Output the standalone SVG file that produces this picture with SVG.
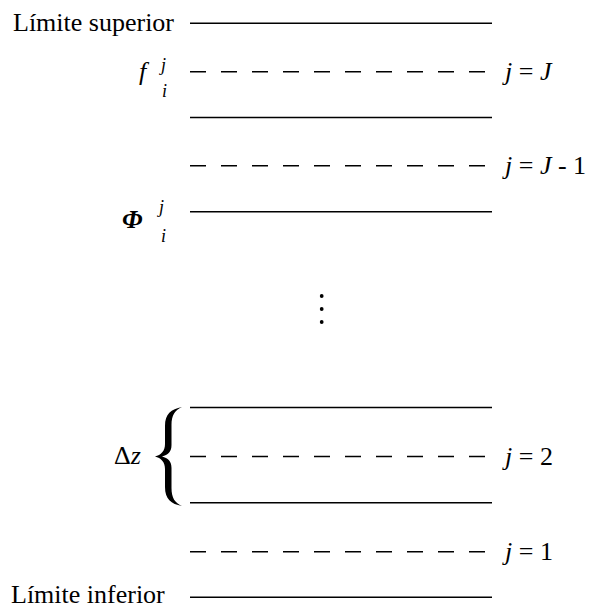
<svg xmlns="http://www.w3.org/2000/svg" width="592" height="608" viewBox="0 0 592 608">
<style>
  .t { font-family: "Liberation Serif", "Times New Roman", serif; font-size: 26px; fill: #000; }
  .it { font-style: italic; }
  .sub { font-family: "Liberation Serif", "Times New Roman", serif; font-size: 18px; font-style: italic; fill: #000; }
  .solid { stroke: #000; stroke-width: 1.6; fill: none; }
  .dash { stroke: #000; stroke-width: 1.6; fill: none; stroke-dasharray: 16 15; }
</style>
<rect width="592" height="608" fill="#fff"/>
<g id="connectors">
  <line class="solid" x1="190" y1="23.3" x2="492" y2="23.3"/>
  <line class="dash" x1="190" y1="71.7" x2="492" y2="71.7"/>
  <line class="solid" x1="190" y1="117.5" x2="492" y2="117.5"/>
  <line class="dash" x1="190" y1="165.7" x2="492" y2="165.7"/>
  <line class="solid" x1="190" y1="211.7" x2="492" y2="211.7"/>
  <line class="solid" x1="190" y1="407.5" x2="492" y2="407.5"/>
  <line class="dash" x1="190" y1="456.5" x2="492" y2="456.5"/>
  <line class="solid" x1="190" y1="502.7" x2="492" y2="502.7"/>
  <line class="dash" x1="190" y1="551.7" x2="492" y2="551.7"/>
  <line class="solid" x1="190" y1="597.3" x2="492" y2="597.3"/>
</g>
<g id="limite-superior"><text class="t" x="13" y="31">Límite superior</text></g>
<g id="limite-inferior"><text class="t" x="11" y="603">Límite inferior</text></g>
<g id="f-label">
  <text class="t it" x="139" y="80">f</text>
  <text class="sub" x="161" y="71">j</text>
  <text class="sub" x="162" y="96.5">i</text>
</g>
<g id="phi-label">
  <text class="t it" x="122" y="228" font-weight="bold" font-size="30">Φ</text>
  <text class="sub" x="159" y="213">j</text>
  <text class="sub" x="161" y="242">i</text>
</g>
<g id="label-jJ"><text class="t" x="505" y="80"><tspan class="it">j</tspan> = <tspan class="it">J</tspan></text></g>
<g id="label-jJ1"><text class="t" x="505" y="174"><tspan class="it">j</tspan> = <tspan class="it">J</tspan> - 1</text></g>
<g id="label-j2"><text class="t" x="505" y="465"><tspan class="it">j</tspan> = 2</text></g>
<g id="label-j1"><text class="t" x="505" y="560"><tspan class="it">j</tspan> = 1</text></g>
<g id="vdots">
  <circle cx="321.7" cy="296" r="1.9" fill="#000"/>
  <circle cx="321.7" cy="309" r="1.9" fill="#000"/>
  <circle cx="321.7" cy="322" r="1.9" fill="#000"/>
</g>
<g id="delta-z">
  <text class="t" x="114" y="464">Δ<tspan class="it">z</tspan></text>
  <path fill="#000" d="M182,407 C171,409 165,414 165,426 L165,444 C165,451 161,455 155,456.5 C161,458 165,462 165,469 L165,487 C165,499 171,504 182,506 C175,503 171.5,498 171.5,488 L171.5,468 C171.5,461 168,458 162,456.5 C168,455 171.5,452 171.5,445 L171.5,425 C171.5,415 175,410 182,407 Z"/>
</g>
</svg>
